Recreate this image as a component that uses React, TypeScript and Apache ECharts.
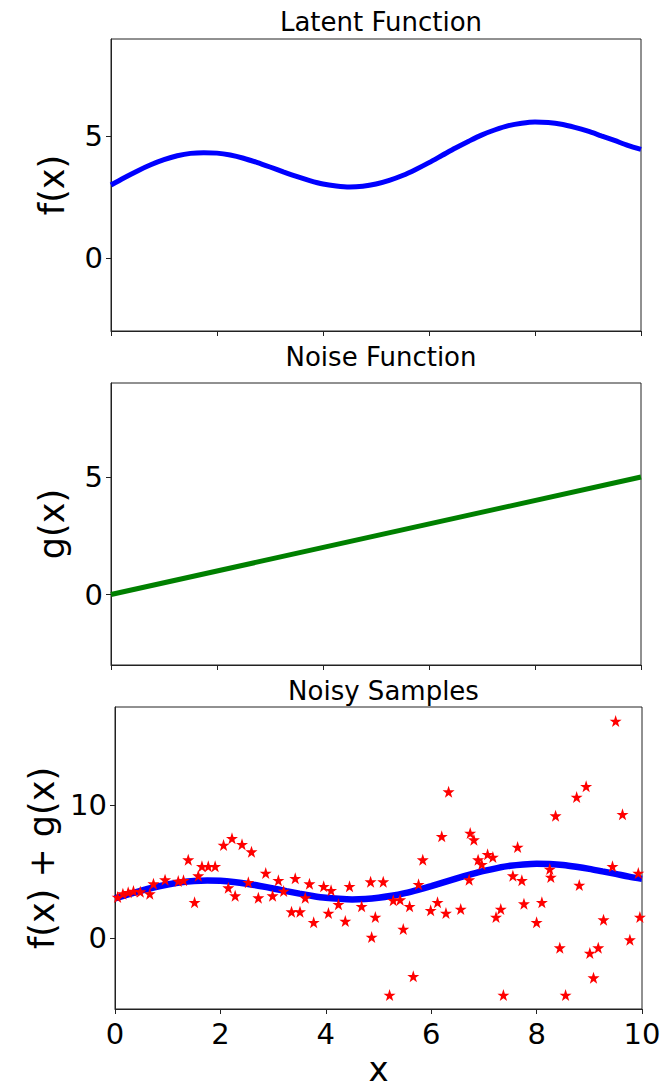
import React, { useEffect, useRef } from "react";
import * as echarts from "echarts";

const curveX = [
  0, 0.25, 0.5, 0.75, 1, 1.25, 1.5, 1.75, 2, 2.25, 2.5, 2.75, 3, 3.25, 3.5, 3.75, 4, 4.25, 4.5, 4.75,
  5, 5.25, 5.5, 5.75, 6, 6.25, 6.5, 6.75, 7, 7.25, 7.5, 7.75, 8, 8.25, 8.5, 8.75, 9, 9.25, 9.5, 9.75, 10
];
const latentY = [
  3.0, 3.3, 3.58, 3.83, 4.04, 4.2, 4.3, 4.33, 4.31, 4.23, 4.1, 3.93, 3.74, 3.54, 3.35, 3.18, 3.04, 2.96, 2.92, 2.95,
  3.04, 3.19, 3.39, 3.64, 3.92, 4.22, 4.52, 4.8, 5.06, 5.27, 5.44, 5.54, 5.59, 5.57, 5.5, 5.37, 5.21, 5.02, 4.83, 4.63, 4.46
];
const noiseX = [0, 10];
const noiseY = [0, 5];
const sampleX = [
  0.05, 0.15, 0.25, 0.35, 0.48, 0.66, 0.73, 0.95, 1.2, 1.3, 1.39, 1.51, 1.58, 1.65, 1.77, 1.9,
  2.06, 2.15, 2.22, 2.28, 2.41, 2.53, 2.59, 2.72, 2.86, 2.99, 3.1, 3.2, 3.35, 3.42, 3.51, 3.61,
  3.69, 3.77, 3.96, 4.05, 4.1, 4.24, 4.37, 4.45, 4.68, 4.85, 4.87, 4.94, 5.09, 5.21, 5.28, 5.41,
  5.47, 5.59, 5.66, 5.76, 5.84, 5.99, 6.12, 6.2, 6.28, 6.33, 6.56, 6.72, 6.74, 6.81, 6.89, 6.96,
  7.07, 7.17, 7.23, 7.32, 7.37, 7.55, 7.64, 7.72, 7.76, 8.0, 8.1, 8.25, 8.27, 8.36, 8.44, 8.55,
  8.76, 8.81, 8.94, 9.01, 9.08, 9.17, 9.27, 9.44, 9.5, 9.63, 9.77, 9.93, 9.96
];
const sampleY = [
  3.1, 3.35, 3.45, 3.55, 3.5, 3.35, 4.1, 4.4, 4.3, 4.35, 5.9, 2.7, 4.7, 5.4, 5.4, 5.4,
  7.0, 3.8, 7.5, 3.2, 7.05, 4.2, 6.5, 3.05, 4.9, 3.2, 4.35, 3.55, 2.0, 4.5, 2.0, 3.05,
  4.1, 1.2, 3.9, 1.9, 3.6, 2.55, 1.3, 3.9, 2.4, 4.25, 0.1, 1.6, 4.25, -4.25, 2.85, 2.9,
  0.7, 2.4, -2.85, 4.05, 5.9, 2.1, 2.7, 7.65, 1.9, 11.0, 2.2, 4.4, 7.9, 7.4, 5.9, 5.55,
  6.3, 6.1, 1.6, 2.2, -4.25, 4.7, 6.85, 4.35, 2.6, 1.2, 2.7, 5.2, 4.6, 9.2, -0.7, -4.25,
  10.6, 4.0, 11.4, -1.1, -2.95, -0.7, 1.4, 5.4, 16.3, 9.3, -0.1, 4.9, 1.6
];
const xTicks = [0, 2, 4, 6, 8, 10];
const topYTicks = [0, 5];
const bottomYTicks = [0, 10];
const titles = ["Latent Function", "Noise Function", "Noisy Samples"];
const yNames = ["f(x)", "g(x)", "f(x) + g(x)"];

const FONT = "DejaVu Sans";
const STAR =
  "path://M50,0 L61.8,35.1 L98.1,35.1 L68.8,56.7 L79.4,91 L50,70 L20.6,91 L31.2,56.7 L1.9,35.1 L38.2,35.1 Z";

export default function App() {
  const ref = useRef<HTMLDivElement>(null);
  useEffect(() => {
    if (!ref.current) return;
    const chart = echarts.init(ref.current, null, { renderer: "svg" });
    const grids = [
      { left: 111, top: 39, width: 530, height: 292 },
      { left: 111, top: 383, width: 530, height: 282 },
      { left: 115, top: 707, width: 527, height: 302 },
    ];
    const titleTops = [4, 339, 673];
    const axisLine = { show: true, onZero: false, lineStyle: { color: "#222", width: 1 } };
    const xAxes = grids.map((g, i) => ({
      type: "value",
      gridIndex: i,
      min: 0,
      max: 10,
      interval: 2,
      axisLine,
      axisTick: { show: true, length: 5, lineStyle: { color: "#222" }, customValues: xTicks },
      axisLabel: {
        show: i === 2,
        customValues: xTicks,
        fontSize: 29,
        fontFamily: FONT,
        color: "#000",
        margin: 10,
      },
      splitLine: { show: false },
      name: i === 2 ? "x" : "",
      nameLocation: "middle",
      nameGap: 43,
      nameTextStyle: { fontSize: 34, fontFamily: FONT, color: "#000" },
    }));
    const yAxes = grids.map((g, i) => {
      const ticks = i === 2 ? bottomYTicks : topYTicks;
      return {
        type: "value",
        gridIndex: i,
        min: i === 2 ? -5.3 : -3,
        max: i === 2 ? 17.35 : 9,
        axisLine,
        axisTick: { show: true, length: 5, lineStyle: { color: "#222" }, customValues: ticks },
        axisLabel: {
          customValues: ticks,
          fontSize: 29,
          fontFamily: FONT,
          color: "#000",
          margin: 8,
        },
        splitLine: { show: false },
        name: yNames[i],
        nameLocation: "middle",
        nameGap: i === 2 ? 55 : 42,
        nameTextStyle: { fontSize: 35, fontFamily: FONT, color: "#000" },
      };
    });
    const curve = curveX.map((x, k) => [x, latentY[k]]);
    chart.setOption({
      animation: false,
      backgroundColor: "#fff",
      title: titles.map((t, i) => ({
        text: t,
        left: grids[i].left + grids[i].width / 2,
        top: titleTops[i],
        textAlign: "center",
        textStyle: { fontSize: 26, fontWeight: "normal", fontFamily: FONT, color: "#000" },
      })),
      grid: grids.map((g) => ({ ...g, show: true, borderColor: "#222", borderWidth: 1, backgroundColor: "transparent" })),
      xAxis: xAxes,
      yAxis: yAxes,
      series: [
        {
          type: "line",
          xAxisIndex: 0,
          yAxisIndex: 0,
          data: curve,
          smooth: 0.3,
          showSymbol: false,
          lineStyle: { color: "#0000ff", width: 5 },
        },
        {
          type: "line",
          xAxisIndex: 1,
          yAxisIndex: 1,
          data: noiseX.map((x, k) => [x, noiseY[k]]),
          showSymbol: false,
          lineStyle: { color: "#008000", width: 5 },
        },
        {
          type: "line",
          xAxisIndex: 2,
          yAxisIndex: 2,
          data: curve,
          smooth: 0.3,
          showSymbol: false,
          lineStyle: { color: "#0000ff", width: 6.5 },
          z: 2,
        },
        {
          type: "scatter",
          xAxisIndex: 2,
          yAxisIndex: 2,
          data: sampleX.map((x, k) => [x, sampleY[k]]),
          symbol: STAR,
          symbolSize: 12,
          itemStyle: { color: "#ff0000", opacity: 1 },
          z: 3,
        },
      ],
    });
    return () => chart.dispose();
  }, []);
  return (
    <div
      ref={ref}
      style={{ position: "absolute", left: 0, top: 0, width: 664, height: 1090 }}
    />
  );
}
